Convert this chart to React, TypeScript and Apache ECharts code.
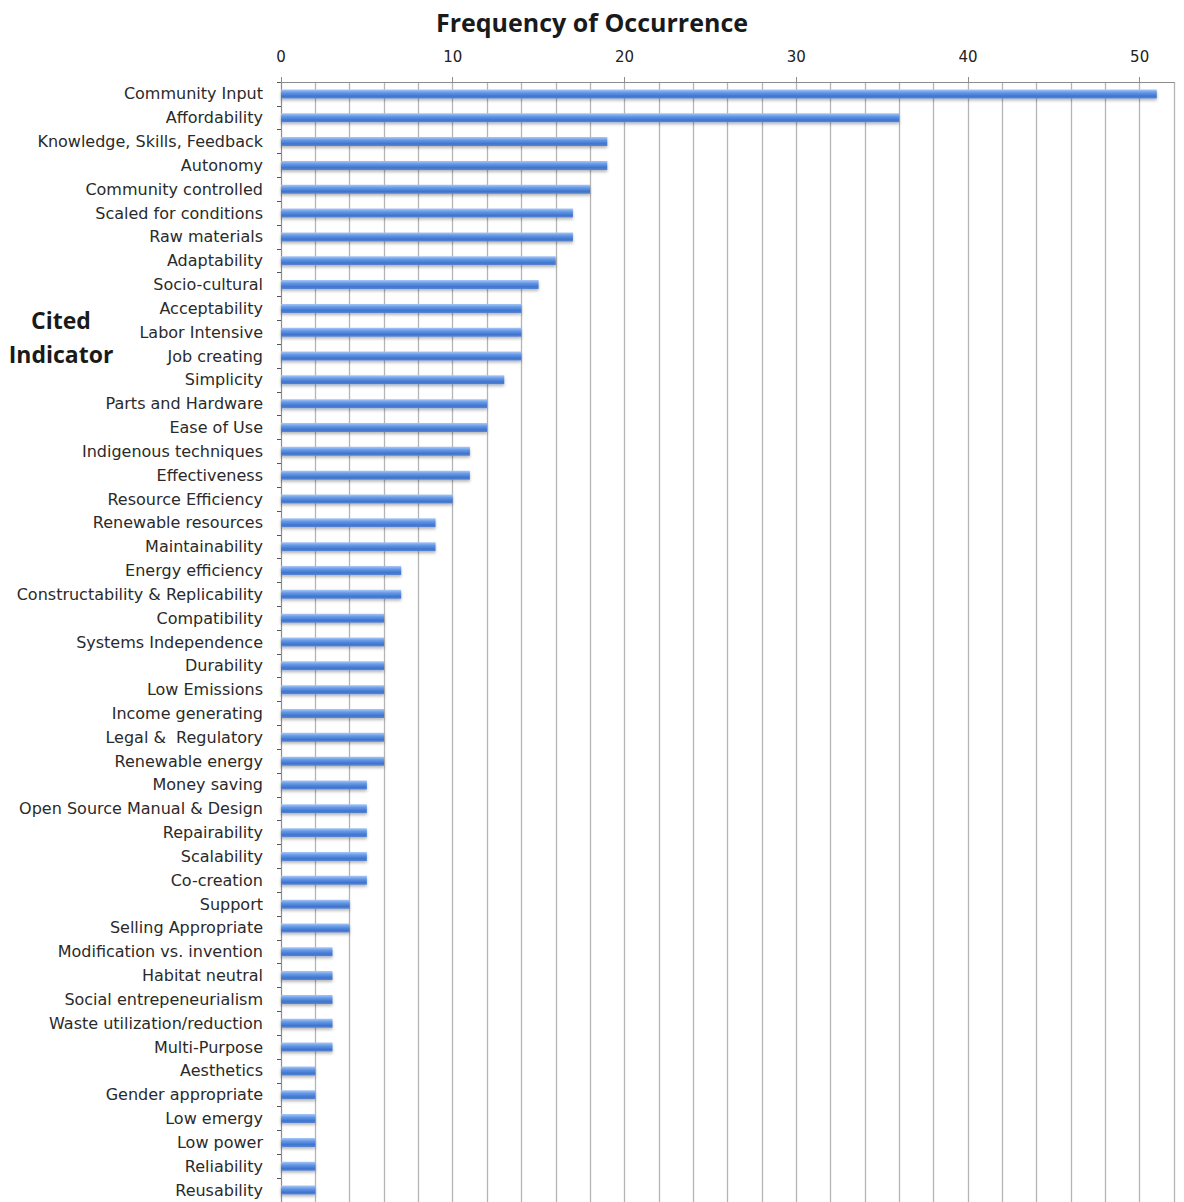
import React, { useEffect, useRef } from "react";
import * as echarts from "echarts";

const categories = [
  "Community Input",
  "Affordability",
  "Knowledge, Skills, Feedback",
  "Autonomy",
  "Community controlled",
  "Scaled for conditions",
  "Raw materials",
  "Adaptability",
  "Socio-cultural",
  "Acceptability",
  "Labor Intensive",
  "Job creating",
  "Simplicity",
  "Parts and Hardware",
  "Ease of Use",
  "Indigenous techniques",
  "Effectiveness",
  "Resource Efficiency",
  "Renewable resources",
  "Maintainability",
  "Energy efficiency",
  "Constructability & Replicability",
  "Compatibility",
  "Systems Independence",
  "Durability",
  "Low Emissions",
  "Income generating",
  "Legal &  Regulatory",
  "Renewable energy",
  "Money saving",
  "Open Source Manual & Design",
  "Repairability",
  "Scalability",
  "Co-creation",
  "Support",
  "Selling Appropriate",
  "Modification vs. invention",
  "Habitat neutral",
  "Social entrepeneurialism",
  "Waste utilization/reduction",
  "Multi-Purpose",
  "Aesthetics",
  "Gender appropriate",
  "Low emergy",
  "Low power",
  "Reliability",
  "Reusability",
];

const frequency = [
  51, 36, 19, 19, 18, 17, 17, 16, 15, 14, 14, 14, 13, 12, 12, 11, 11, 10, 9, 9,
  7, 7, 6, 6, 6, 6, 6, 6, 6, 5, 5, 5, 5, 5, 4, 4, 3, 3, 3, 3, 3, 2, 2, 2, 2, 2, 2,
];

const xTickLabels = [0, 10, 20, 30, 40, 50];

const titleText = "Frequency of Occurrence";
const yAxisTitleLines = ["Cited", "Indicator"];

export default function App() {
  const ref = useRef<HTMLDivElement>(null);

  useEffect(() => {
    if (!ref.current) return;
    const chart = echarts.init(ref.current, null, { renderer: "svg" });
    const font = "'Open Sans', 'DejaVu Sans', sans-serif";
    const labelFont = "'DejaVu Sans', sans-serif";
    chart.setOption({
      animation: false,
      backgroundColor: "#ffffff",
      graphic: [
        {
          type: "text",
          x: 592,
          y: 22,
          style: {
            text: titleText,
            font: `bold 25px ${font}`,
            fill: "#1a1a1a",
            align: "center",
            verticalAlign: "middle",
          },
        },
        {
          type: "text",
          x: 61,
          y: 320,
          style: {
            text: yAxisTitleLines[0],
            font: `bold 23px ${font}`,
            fill: "#1a1a1a",
            align: "center",
            verticalAlign: "middle",
          },
        },
        {
          type: "text",
          x: 61,
          y: 354,
          style: {
            text: yAxisTitleLines[1],
            font: `bold 23px ${font}`,
            fill: "#1a1a1a",
            align: "center",
            verticalAlign: "middle",
          },
        },
      ],
      grid: {
        left: 281,
        right: 10,
        top: 82,
        height: 1122,
        containLabel: false,
      },
      xAxis: [
        {
          type: "value",
          position: "top",
          min: 0,
          max: 52,
          interval: 2,
          axisLine: { show: true, lineStyle: { color: "#8c8c8c", width: 1 } },
          axisTick: {
            show: true,
            customValues: xTickLabels,
            length: 5,
            inside: false,
            lineStyle: { color: "#8c8c8c" },
          },
          axisLabel: {
            customValues: xTickLabels,
            margin: 18,
            fontFamily: labelFont,
            fontSize: 15,
            color: "#222",
          },
          splitLine: { show: false },
          z: 3,
        },
        {
          type: "value",
          position: "bottom",
          min: 0,
          max: 52,
          interval: 2,
          axisLine: { show: false },
          axisTick: { show: false },
          axisLabel: { show: false },
          splitLine: {
            show: true,
            lineStyle: { color: "#b4b4b4", width: 1.3 },
          },
        },
      ],
      yAxis: {
        type: "category",
        inverse: true,
        data: categories,
        axisLine: { show: true, lineStyle: { color: "#8c8c8c" } },
        axisTick: {
          show: true,
          alignWithLabel: false,
          length: 4,
          lineStyle: { color: "#555" },
        },
        axisLabel: {
          interval: 0,
          margin: 18,
          fontFamily: labelFont,
          fontSize: 16,
          color: "#2a2a2a",
        },
        splitLine: { show: false },
      },
      series: [
        {
          type: "bar",
          xAxisIndex: 0,
          data: frequency,
          barWidth: 9,
          itemStyle: {
            color: new echarts.graphic.LinearGradient(0, 0, 0, 1, [
              { offset: 0, color: "#a9c8f5" },
              { offset: 0.35, color: "#6498e6" },
              { offset: 0.75, color: "#3f74cf" },
              { offset: 1, color: "#5b86cf" },
            ]),
            shadowColor: "rgba(0,0,0,0.28)",
            shadowBlur: 3,
            shadowOffsetY: 2,
          },
        },
      ],
    });
    return () => chart.dispose();
  }, []);

  return (
    <div
      ref={ref}
      style={{ position: "fixed", left: 0, top: 0, width: 1184, height: 1202 }}
    />
  );
}
